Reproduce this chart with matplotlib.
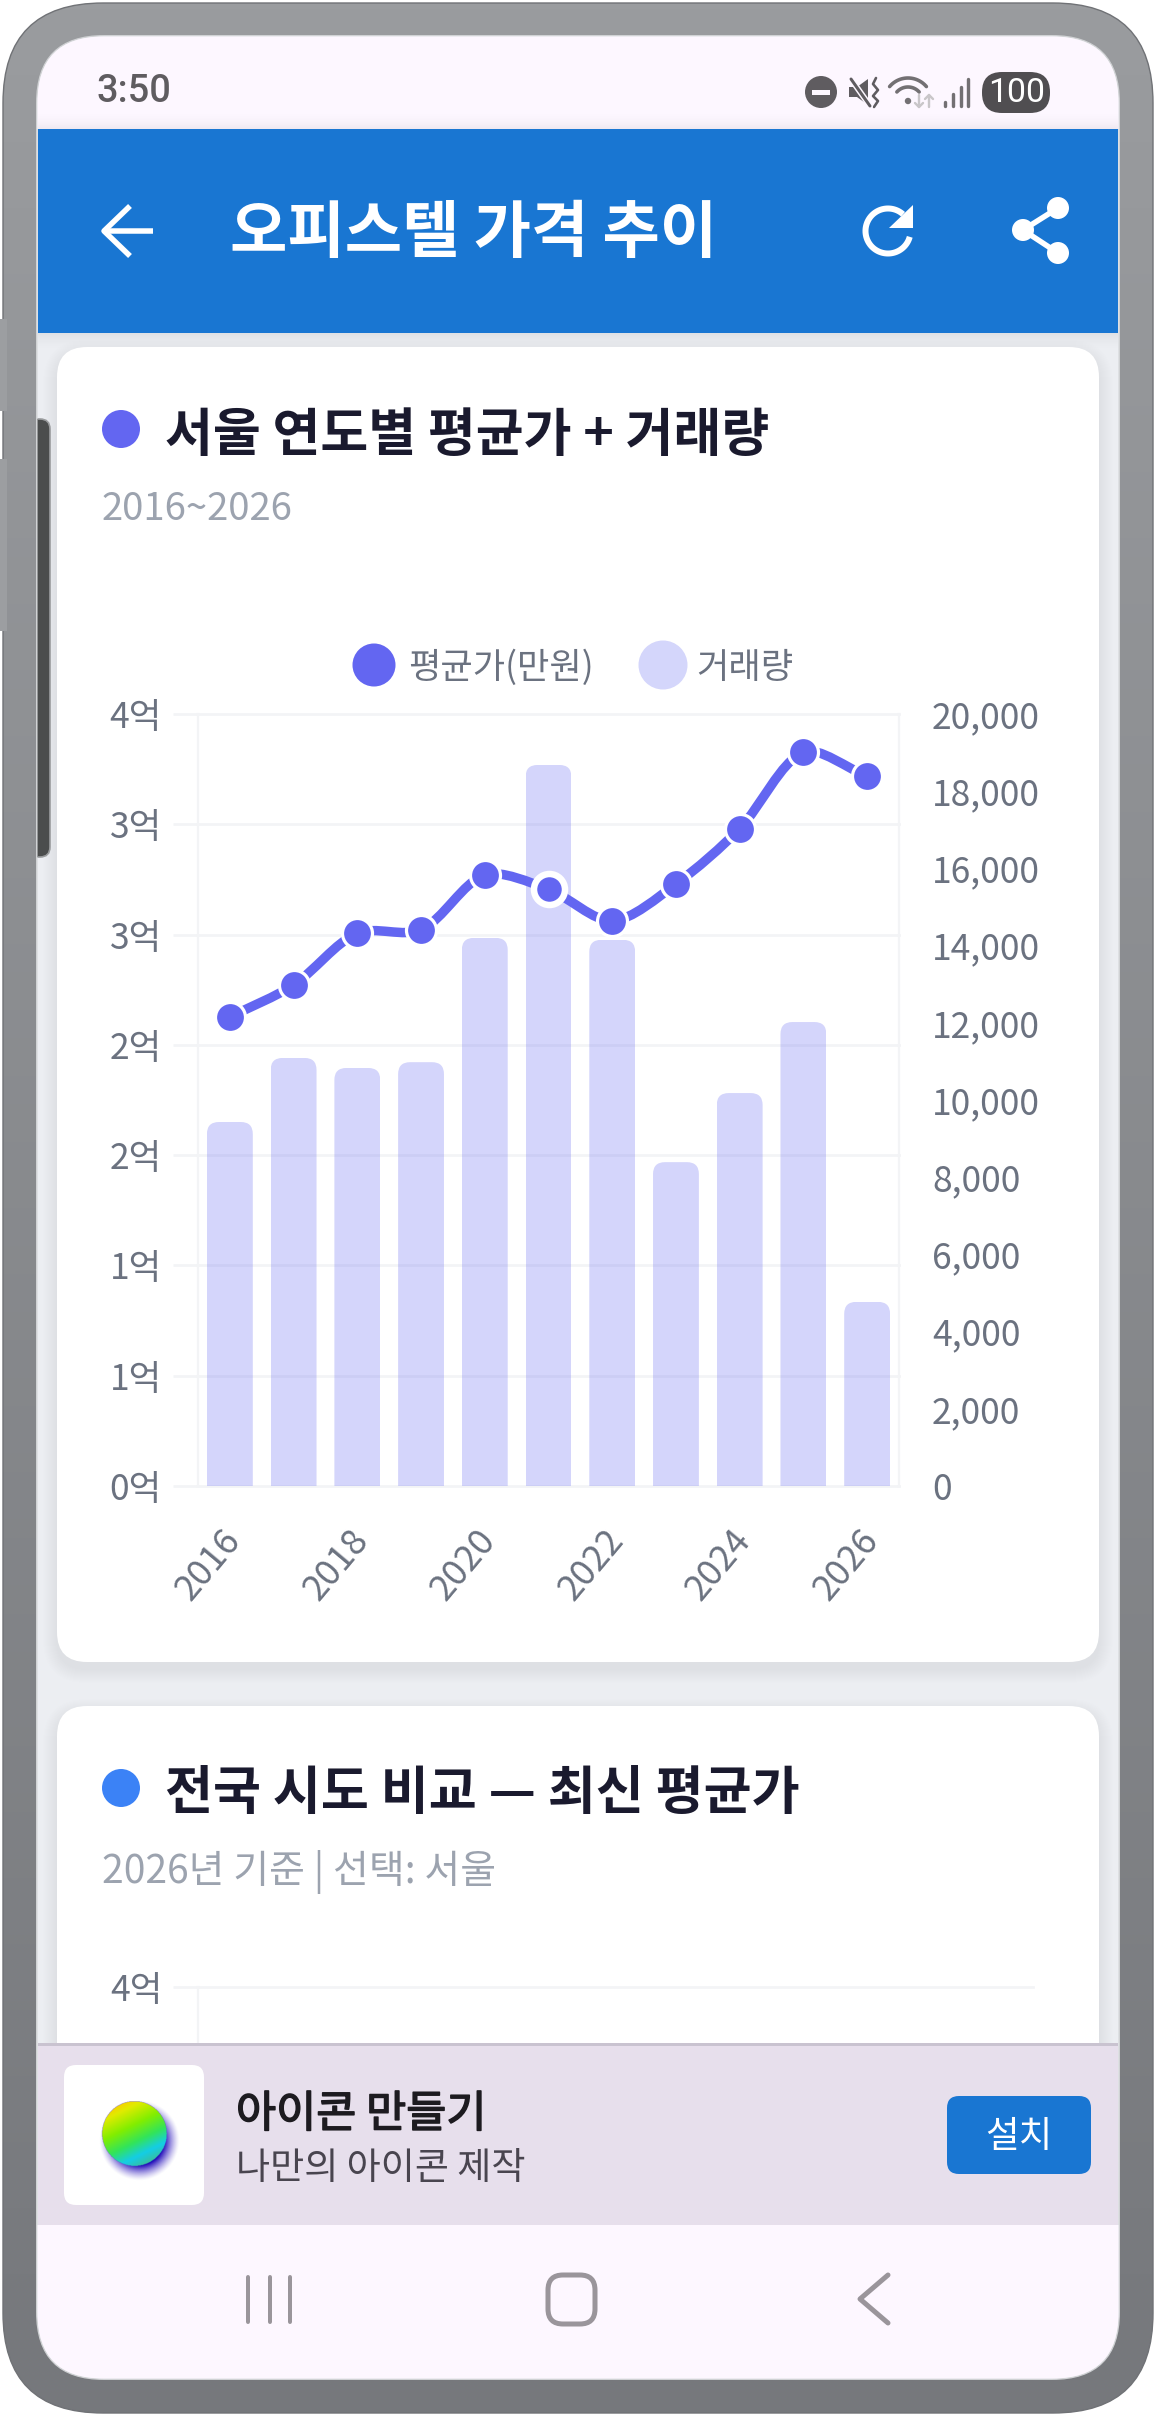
import numpy as np
import matplotlib
matplotlib.use("Agg")
import matplotlib.pyplot as plt
import matplotlib.patheffects as pe
from matplotlib.patches import FancyBboxPatch, Circle, Rectangle, Polygon, PathPatch
from matplotlib.path import Path
from matplotlib.transforms import ScaledTranslation

# Chart data
years = [2016, 2017, 2018, 2019, 2020, 2021, 2022, 2023, 2024, 2025, 2026]
avg_price = [24300, 25960, 28650, 28810, 31660, 30920, 29280, 31190, 34060, 38020, 36770]
volume = [9430, 11090, 10830, 10980, 14200, 18680, 14150, 8390, 10180, 12020, 4770]
selected_index = 5
price_max = 40000
price_tick_count = 8
volume_ticks = list(range(0, 20001, 2000))
x_labels = ["2016", "2018", "2020", "2022", "2024", "2026"]

app_title = "오피스텔 가격 추이"
card1_title = "서울 연도별 평균가 + 거래량"
card1_sub = "2016~2026"
card2_title = "전국 시도 비교 — 최신 평균가"
card2_sub = "2026년 기준 | 선택: 서울"
legend_price = "평균가(만원)"
legend_volume = "거래량"

W, H = 1156, 2416
FONT = ["Noto Sans CJK KR", "DejaVu Sans"]
plt.rcParams["font.family"] = FONT

INDIGO = "#6366f1"
BLUE = "#1976d2"
TICK = "#6b7280"
GRID = "#f3f4f6"
PX = 72 / 100  # points per pixel at 100 dpi
LABEL_SIZE = 25.5

fig = plt.figure(figsize=(W / 100, H / 100), dpi=100, facecolor="white")
renderer = fig.canvas.get_renderer()


def ui_axes(z):
    a = fig.add_axes([0, 0, 1, 1], zorder=z)
    a.set_xlim(0, W)
    a.set_ylim(H, 0)
    a.axis("off")
    a.patch.set_visible(False)
    return a


def rrect(a, x0, y0, x1, y1, r, z=1, **kw):
    kw.setdefault("linewidth", 0)
    p = FancyBboxPatch((x0 + r, y0 + r), x1 - x0 - 2 * r, y1 - y0 - 2 * r,
                       boxstyle=f"round,pad={r},rounding_size={r}", zorder=z, **kw)
    a.add_patch(p)
    return p


def fit_text(a, x0, x1, yc, s, color, weight="normal", family=None, z=5):
    """Place left-aligned text scaled so that it spans x0..x1 pixels."""
    t = a.text(x0, yc + 3, s, color=color, fontweight=weight, fontsize=20,
               ha="left", va="center", zorder=z, family=family or FONT)
    w = t.get_window_extent(renderer).width
    t.set_fontsize(20 * (x1 - x0) / w)
    return t


def seg(a, xs, ys, color, lw_px, z=5, cap="round"):
    a.plot(xs, ys, color=color, lw=lw_px * PX, solid_capstyle=cap,
           solid_joinstyle="round", zorder=z)


bg = ui_axes(0)
top = ui_axes(10)

# Phone body with a vertical metal gradient
body_img = np.linspace(0, 1, 256)[:, None]
c0, c1 = np.array([0x9a, 0x9c, 0x9f]), np.array([0x76, 0x78, 0x7c])
body_rgb = (c0 + (c1 - c0) * body_img[..., None]) / 255
im = bg.imshow(body_rgb, extent=(0, W, H, 0), aspect="auto", zorder=1)
body = rrect(bg, 3, 3, W - 3, H - 3, 100, z=1, facecolor="none", edgecolor="#707276", linewidth=1.0)
im.set_clip_path(body)
for y0, y1 in [(319, 411), (459, 631)]:
    bg.add_patch(Rectangle((0, y0), 7, y1 - y0, color="#9c9ea1", zorder=1.5, lw=0))
rrect(bg, 36, 35, W - 36, 2380, 68, z=2, facecolor="#d0d2d4")

# Screen
screen = rrect(bg, 37.5, 36.5, W - 37.5, 2378.5, 66, z=2.1, facecolor="#eceef2")

status = bg.add_patch(Rectangle((37, 36), W - 74, 93, color="#fdf7ff", zorder=2.2, lw=0))
status.set_clip_path(screen)
for i in range(18):
    bg.add_patch(Rectangle((38, 111 + i), W - 76, 1, color="black", lw=0,
                           alpha=0.055 * ((i + 1) / 18) ** 2, zorder=2.3))
for i in range(16):
    bg.add_patch(Rectangle((38, 333 + i), W - 76, 1, color="black", lw=0,
                           alpha=0.05 * (1 - i / 16) ** 1.5, zorder=2.3))

# Cards with soft shadows
for (x0, y0, x1, y1) in [(57, 347, 1099, 1662), (57, 1706, 1099, 2200)]:
    for k in range(14, 0, -1):
        rrect(bg, x0 - k, y0 - k + 7, x1 + k, y1 + k + 7, 30 + k, z=2.4,
              facecolor="black", alpha=0.002)
    rrect(bg, x0, y0, x1, y1, 30, z=2.5, facecolor="white")

# Camera-side dark strip
p = rrect(bg, 20, 419, 50, 857, 10, z=2.6, facecolor="#4b4d4d", edgecolor="#9a9c9e", linewidth=1.2)
p.set_clip_path(screen)

# Status bar
STATUS = "#5f5c60"
fit_text(bg, 97, 172, 89, "3:50", STATUS, weight="medium", family=["Roboto"])
bg.add_patch(Circle((821, 92), 16, color=STATUS, zorder=5, lw=0))
bg.add_patch(Rectangle((812, 90), 18, 5, color="#fdf7ff", zorder=6, lw=0))
bg.add_patch(Polygon([(849, 87), (857, 87), (868, 79), (868, 105), (857, 97), (849, 97)],
                     color=STATUS, zorder=5, lw=0))
seg(bg, [851, 870], [79, 106], "#fdf7ff", 6, z=6)
seg(bg, [851, 870], [79, 106], STATUS, 3, z=7)
seg(bg, [876, 873, 878, 873, 878, 874], [78, 84, 90, 96, 101, 107], STATUS, 2.6)
wx, wy = 908, 102
for r, half in [(24, 50), (15, 48)]:
    th = np.radians(np.linspace(-90 - half, -90 + half, 30))
    seg(bg, wx + r * np.cos(th), wy + r * np.sin(th), "#737073", 3.6)
bg.add_patch(Circle((wx, wy - 1), 3.2, color="#737073", zorder=5, lw=0))
seg(bg, [919, 919], [95, 107], "#c9c6c9", 2.4)
seg(bg, [915, 919, 923], [103, 107, 103], "#c9c6c9", 2.4)
seg(bg, [929, 929], [95, 107], "#c9c6c9", 2.4)
seg(bg, [925, 929, 933], [99, 95, 99], "#c9c6c9", 2.4)
for x_s, y_s in [(945, 102), (953, 94), (961, 87), (968, 79)]:
    seg(bg, [x_s, x_s], [y_s, 106], "#737073", 3.4)
rrect(bg, 982, 72, 1050, 113, 20, z=5, facecolor="#504e51")
fit_text(bg, 988, 1045, 89.5, "100", "white", family=["Roboto"], z=6)

# Card headers
bg.add_patch(Circle((121, 429), 19, color=INDIGO, zorder=5, lw=0))
fit_text(bg, 165, 768, 432, card1_title, "#1a1a2e", weight="bold")
fit_text(bg, 102, 293, 507, card1_sub, "#9ca3af")
bg.add_patch(Circle((121, 1788), 19, color="#3b82f6", zorder=5, lw=0))
fit_text(bg, 165, 798, 1790, card2_title, "#1a1a2e", weight="bold")
fit_text(bg, 102, 495, 1869, card2_sub, "#9ca3af")

# Chart legend
bg.add_patch(Circle((374, 665), 21.5, color=INDIGO, zorder=5, lw=0))
fit_text(bg, 408, 593, 665, legend_price, TICK)
bg.add_patch(Circle((663, 665), 24.5, color="#d4d6fb", zorder=5, lw=0))
fit_text(bg, 696, 793, 665, legend_volume, TICK)

# Dual-axis chart: base axes holds grid and price scale, twins hold bars and line
ax = fig.add_axes([198 / W, 1 - 1486 / H, 701 / W, 772 / H], zorder=1)
ax.patch.set_visible(False)
ax_vol = ax.twinx()
ax_line = ax.twinx()
ax_vol.set_zorder(2)
ax_line.set_zorder(3)

xpos = np.arange(len(years))
ax.set_xlim(-0.5, len(years) - 0.5)
ax.set_ylim(0, price_max)
price_ticks = np.linspace(0, price_max, price_tick_count)
ax.set_yticks(price_ticks)
ax.set_yticklabels([f"{v / 10000:.0f}억" for v in price_ticks])
ax.tick_params(axis="y", length=25 * PX, width=2.7 * PX, color=GRID, labelsize=LABEL_SIZE,
               labelcolor=TICK, pad=11 * PX)
ax.yaxis.grid(True, color=GRID, lw=2.7 * PX)
ax.set_axisbelow(True)
for gl in ax.get_ygridlines():
    gl.set_clip_on(False)
ax.set_xticks(xpos[::2])
ax.set_xticklabels(x_labels, rotation=50, ha="right", va="top", rotation_mode="anchor",
                   fontsize=26, color=TICK)
ax.tick_params(axis="x", length=0, pad=37 * PX)
x_shift = ScaledTranslation(-9 / 100, 0, fig.dpi_scale_trans)
for lab in ax.get_xticklabels():
    lab.set_transform(lab.get_transform() + x_shift)
for name, sp in ax.spines.items():
    sp.set_visible(name == "left")
    sp.set_color(GRID)
    sp.set_linewidth(2.2 * PX)

# Bars with rounded top corners
ax_vol.set_ylim(0, 20000)
ax_vol.set_yticks(volume_ticks)
ax_vol.set_yticklabels([f"{v:,}" for v in volume_ticks])
ax_vol.tick_params(axis="y", length=0, labelsize=LABEL_SIZE, labelcolor=TICK, pad=33 * PX)
for name, sp in ax_vol.spines.items():
    sp.set_visible(name == "right")
    sp.set_color(GRID)
    sp.set_linewidth(2.2 * PX)
BAR_W = 0.72
bars = ax_vol.bar(xpos, volume, width=BAR_W, color=INDIGO, alpha=0.27, linewidth=0)
rx = 12 / (701 / 11)
ry = 12 / (772 / 20000)
for b, xc, v in zip(bars, xpos, volume):
    l, r = xc - BAR_W / 2, xc + BAR_W / 2
    verts = [(l, 0), (l, v - ry), (l, v), (l + rx, v), (r - rx, v), (r, v), (r, v - ry), (r, 0), (l, 0)]
    codes = [Path.MOVETO, Path.LINETO, Path.CURVE3, Path.CURVE3, Path.LINETO,
             Path.CURVE3, Path.CURVE3, Path.LINETO, Path.CLOSEPOLY]
    b.set_clip_path(Path(verts, codes), ax_vol.transData)

# Smoothed price line through the yearly averages
ax_line.set_ylim(0, price_max)
ax_line.set_yticks([])
for sp in ax_line.spines.values():
    sp.set_visible(False)
sx, sy = 701 / 11, 772 / price_max
pts = np.column_stack([xpos, avg_price]).astype(float)
px_pts = pts * [sx, sy]
tension = 0.3
verts = [tuple(pts[0])]
codes = [Path.MOVETO]
ctrl_out, ctrl_in = [], []
for i in range(len(pts)):
    prev = px_pts[max(i - 1, 0)]
    nxt = px_pts[min(i + 1, len(pts) - 1)]
    d0 = np.linalg.norm(px_pts[i] - prev)
    d1 = np.linalg.norm(nxt - px_pts[i])
    tot = max(d0 + d1, 1e-6)
    ctrl_in.append(px_pts[i] - tension * d0 / tot * (nxt - prev))
    ctrl_out.append(px_pts[i] + tension * d1 / tot * (nxt - prev))
for i in range(len(pts) - 1):
    verts += [tuple(ctrl_out[i] / [sx, sy]), tuple(ctrl_in[i + 1] / [sx, sy]), tuple(pts[i + 1])]
    codes += [Path.CURVE4] * 3
ax_line.add_patch(PathPatch(Path(verts, codes), facecolor="none", edgecolor=INDIGO,
                            lw=9.5 * PX, clip_on=False, zorder=2))
rest = [i for i in xpos if i != selected_index]
ax_line.plot(xpos[rest], np.array(avg_price)[rest], "o", ms=30 * PX, mfc=INDIGO, mec="white",
             mew=3.2 * PX, clip_on=False, zorder=3)
ax_line.plot([xpos[selected_index]], [avg_price[selected_index]], "o", ms=31 * PX, mfc=INDIGO,
             mec="white", mew=6.5 * PX, clip_on=False, zorder=4)

# Second chart, scrolled mostly out of view below the banner
ax2 = fig.add_axes([198 / W, 1 - 2080 / H, 835 / W, 93 / H], zorder=1)
ax2.patch.set_visible(False)
ax2.set_xlim(0, 1)
ax2.set_ylim(0, price_max)
ax2.set_xticks([])
ax2.set_yticks([price_max])
ax2.set_yticklabels([f"{price_max / 10000:.0f}억"])
ax2.tick_params(axis="y", length=25 * PX, width=2.7 * PX, color=GRID, labelsize=LABEL_SIZE,
                labelcolor=TICK, pad=10 * PX)
ax2.yaxis.grid(True, color=GRID, lw=2.7 * PX)
for gl in ax2.get_ygridlines():
    gl.set_clip_on(False)
for name, sp in ax2.spines.items():
    sp.set_visible(name == "left")
    sp.set_color(GRID)
    sp.set_linewidth(2.2 * PX)

# App bar
top.add_patch(Rectangle((38, 129), W - 76, 204, color=BLUE, zorder=2, lw=0))
fit_text(top, 230, 716, 230, app_title, "white", weight="bold")
seg(top, [153, 104], [231, 231], "white", 5.5, cap="butt")
seg(top, [130, 104, 130], [206, 231, 256], "white", 5.5, cap="butt")
th = np.radians(np.linspace(-48, -345, 80))
seg(top, 888 + 22.5 * np.cos(th), 231 + 22.5 * np.sin(th), "white", 6, cap="butt")
top.add_patch(Polygon([(913, 205), (913, 228), (889, 228)], color="white", zorder=5, lw=0))
seg(top, [1058, 1023, 1058], [208, 230, 253], "white", 5.5)
for cx, cy in [(1058, 208), (1023, 230), (1058, 253)]:
    top.add_patch(Circle((cx, cy), 11, color="white", zorder=5, lw=0))

# Install banner
top.add_patch(Rectangle((38, 2044), W - 76, 181, color="#e7dfec", zorder=2, lw=0))
top.add_patch(Rectangle((38, 2043), W - 76, 3, color="#c9c3d0", zorder=3, lw=0))
rrect(top, 64, 2065, 204, 2205, 12, z=3, facecolor="white")

# App icon: shaded ball with a blurred blue shadow
n = 220
gx, gy = np.meshgrid(np.linspace(88, 188, n), np.linspace(2085, 2185, n))
cx, cy, R = 134.5, 2133.5, 32.5
shadow_d = np.hypot(gx - (cx + 5), gy - (cy + 7))
shadow_a = np.clip((R + 8 - shadow_d) / 16, 0, 1) ** 1.4
img = np.zeros((n, n, 4))
img[..., :3] = np.array([0x1c, 0x06, 0xb8]) / 255
img[..., 3] = shadow_a
t = np.clip(((gx - cx) * 0.45 + (gy - cy) * 0.9) / (R * 1.05) * 0.5 + 0.5, 0, 1)
stops = [0.0, 0.12, 0.38, 0.62, 0.82, 1.0]
for ch, vals in enumerate(([250, 225, 130, 50, 20, 60],
                           [205, 235, 238, 228, 205, 190],
                           [0, 0, 0, 90, 230, 150])):
    band = np.interp(t, stops, vals) / 255
    img[..., ch] = np.where(np.hypot(gx - cx, gy - cy) <= R, band, img[..., ch])
img[..., 3] = np.where(np.hypot(gx - cx, gy - cy) <= R, 1, img[..., 3])
top.imshow(img, extent=(88, 188, 2185, 2085), aspect="auto", zorder=4, interpolation="bilinear")
top.set_xlim(0, W)
top.set_ylim(H, 0)

ad_title = fit_text(top, 236, 486, 2112, "아이콘 만들기", "#1d1b20")
ad_title.set_path_effects([pe.withStroke(linewidth=1.1, foreground="#1d1b20")])
fit_text(top, 236, 525, 2166, "나만의 아이콘 제작", "#49454f")
rrect(top, 947, 2096, 1091, 2174, 12, z=3, facecolor=BLUE)
fit_text(top, 985, 1052, 2134, "설치", "white")

# Navigation bar
nav = top.add_patch(Rectangle((37, 2225), W - 74, 155, color="#fdf7ff", zorder=2, lw=0))
nav.set_clip_path(screen.get_path(), screen.get_transform())
NAVC = "#9a959b"
for x_n in [248, 269.5, 290]:
    seg(top, [x_n, x_n], [2277, 2322], NAVC, 4)
rrect(top, 548, 2275, 595, 2324, 15, z=3, facecolor="none", edgecolor=NAVC, linewidth=5 * PX)
seg(top, [888, 860, 888], [2275, 2299, 2323], NAVC, 5)

fig.savefig("out.png", dpi=100, facecolor="white")
